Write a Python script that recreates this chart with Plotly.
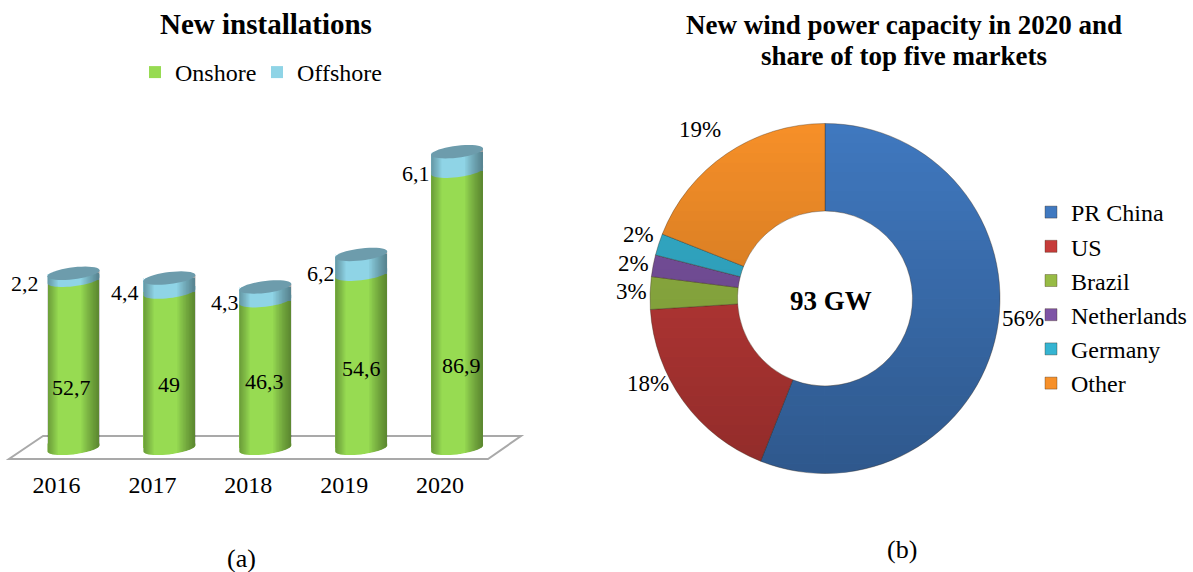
import math
import plotly.graph_objects as go

# ---------- data ----------
years = ["2016", "2017", "2018", "2019", "2020"]
onshore = [52.7, 49, 46.3, 54.6, 86.9]
offshore = [2.2, 4.4, 4.3, 6.2, 6.1]
markets = ["PR China", "US", "Brazil", "Netherlands", "Germany", "Other"]
shares = [56, 18, 3, 2, 2, 19]

# ---------- styling / layout ----------
W, H = 1193, 572
FONT = "Liberation Serif"
GREEN, BLUE, CAP = "#97DB52", "#8FD4E6", "#6D9CAC"
PIE_COLORS = ["#4079C0", "#C63C3A", "#97BB45", "#7E55A6", "#35B4D2", "#F79029"]
px = lambda x: x / W
py = lambda y: 1 - y / H

X0, DX = 73.5, 95.9          # pixel position of first bar, spacing
AX_L, AX_R = 20, 530
Y_BASE, Y_TOP = 448.4, 129.4
PPU = (Y_BASE - Y_TOP) / 100
Y_MIN = -6
BAR_W = 0.542
BX = 6 / PPU                 # ellipse half height in data units
TILT = 3 / PPU               # ellipse tilt in data units

fig = go.Figure()
fig.add_bar(x=list(range(5)), y=onshore, name="Onshore", marker_color=GREEN,
            marker_line_width=0, width=BAR_W, legend="legend", showlegend=True)
fig.add_bar(x=list(range(5)), y=offshore, name="Offshore", marker_color=BLUE,
            marker_line_width=0, width=BAR_W, legend="legend3", showlegend=True)
fig.add_pie(labels=markets, values=shares, hole=0.5, sort=False, direction="clockwise",
            rotation=0, textinfo="none", marker=dict(colors=PIE_COLORS,
            line=dict(color="rgba(60,40,20,0.35)", width=1)),
            domain=dict(x=[px(650), px(1000)], y=[py(474), py(123)]), legend="legend2",
            showlegend=True)

shapes = []


def ell_pts(cx, cy, t0, t1, n=24):
    pts = []
    for k in range(n + 1):
        t = t0 + (t1 - t0) * k / n
        u = math.cos(t)
        pts.append((cx + BAR_W / 2 * u, cy + TILT * u + BX * math.sin(t)))
    return pts


def path(pts):
    return "M" + " L".join(f"{a:.4f},{b:.3f}" for a, b in pts) + " Z"


def add_xy(pts, color, opacity=1.0):
    shapes.append(dict(type="path", xref="x", yref="y", path=path(pts), fillcolor=color,
                       opacity=opacity, line_width=0, layer="above"))


# floor
floor = [(43, 436), (9, 459), (488, 459), (521, 436)]
shapes.append(dict(type="path", xref="paper", yref="paper", layer="below",
                   path="M" + " L".join(f"{px(a):.5f},{py(b):.5f}" for a, b in floor) + " Z",
                   fillcolor="rgba(0,0,0,0)", line=dict(color="#A9A9A9", width=2)))


def lower_y(cy, u):
    return cy + TILT * u - BX * math.sqrt(max(0, 1 - u * u))


def side_poly(i, total, u0, u1, n=14):
    us = [u0 + (u1 - u0) * k / n for k in range(n + 1)]
    low = [(i + u * BAR_W / 2, lower_y(0, u)) for u in us]
    top = [(i + u * BAR_W / 2, total + TILT * u) for u in reversed(us)]
    return low + top


for i, (a, b) in enumerate(zip(onshore, offshore)):
    total = a + b
    # rounded foot and white corner masks
    add_xy(ell_pts(i, 0, math.pi, 2 * math.pi) +
           [(i + BAR_W / 2, 1.5), (i - BAR_W / 2, 1.5)], GREEN)
    add_xy([(i + BAR_W / 2, -TILT - BX), (i + BAR_W / 2, TILT)] +
           list(reversed(ell_pts(i, 0, 1.5 * math.pi, 2 * math.pi))), "white")
    add_xy([(i - BAR_W / 2, total + 2 * TILT)] + ell_pts(i, total, math.pi, math.pi / 2), "white")
    # boundary between segments
    add_xy(ell_pts(i, a, math.pi, 2 * math.pi) +
           [(i + BAR_W / 2, a + 2 * TILT), (i - BAR_W / 2, a + 2 * TILT)], BLUE)
    # cylinder side shading: nested translucent layers, darker towards the edges
    for k in range(12):
        add_xy(side_poly(i, total, 0.30 + 0.68 * k / 12, 1), "#000000", 0.036)
    for k in range(8):
        add_xy(side_poly(i, total, -1, -0.60 - 0.38 * k / 8), "#000000", 0.035)
    # top cap
    add_xy(ell_pts(i, total, 0, 2 * math.pi, 40), CAP)

# doughnut vertical shading
CX, CY, R, r = 825, 298.5, 175, 87.5
bands = 36
for k in range(bands):
    y0 = -R + 2 * R * k / bands
    y1 = -R + 2 * R * (k + 1) / bands
    op = 0.27 * (k + 0.5) / bands
    steps = [y0 + (y1 - y0) * j / 4 for j in range(5)]
    xo = [math.sqrt(max(0, R * R - v * v)) for v in steps]
    xi = [math.sqrt(max(0, r * r - v * v)) for v in steps]
    for sgn in (1, -1):
        pts = [(CX + sgn * a, CY + v) for a, v in zip(xi, steps)] + \
              [(CX + sgn * a, CY + v) for a, v in reversed(list(zip(xo, steps)))]
        shapes.append(dict(type="path", xref="paper", yref="paper", layer="above",
                           path="M" + " L".join(f"{px(a):.5f},{py(b):.5f}" for a, b in pts) + " Z",
                           fillcolor="#000000", opacity=op, line_width=0))

fmt = lambda v: str(v).replace(".", ",")
ann = []


def text(x, y, s, size=22, bold=False):
    ann.append(dict(xref="paper", yref="paper", x=px(x), y=py(y), text=f"<b>{s}</b>" if bold else s,
                    showarrow=False, xanchor="center", yanchor="middle",
                    font=dict(family=FONT, size=size, color="#000000")))


on_pos = [(71, 387), (169, 384), (264, 381), (361, 368), (461, 365)]
off_pos = [(25, 283), (125, 292), (225, 302), (321, 273), (416, 173)]
for v, p in zip(onshore, on_pos):
    text(p[0], p[1], fmt(v))
for v, p in zip(offshore, off_pos):
    text(p[0], p[1], fmt(v))

pct_pos = [(1023, 318), (648, 383), (631, 291), (633, 263), (638, 234), (700, 129)]
for v, p in zip(shares, pct_pos):
    text(p[0], p[1], f"{v}%", 23)

text(266, 24, "New installations", 29, True)
text(904, 25, "New wind power capacity in 2020 and", 27, True)
text(904, 56, "share of top five markets", 27, True)
text(831, 301, "93 GW", 27, True)
text(241, 558, "(a)", 26)
text(902, 549, "(b)", 26)

fig.update_layout(
    width=W, height=H, margin=dict(l=0, r=0, t=0, b=0), barmode="stack", showlegend=True,
    paper_bgcolor="white", plot_bgcolor="rgba(0,0,0,0)", shapes=shapes, annotations=ann,
    font=dict(family=FONT, size=24, color="#000000"),
    xaxis=dict(domain=[px(AX_L), px(AX_R)], range=[(AX_L - X0) / DX, (AX_R - X0) / DX],
               tickmode="array", tickvals=list(range(5)), ticktext=years, ticks="",
               showgrid=False, zeroline=False, showline=False,
               ticklabelshift=-17, ticklabelstandoff=0, tickfont=dict(size=24)),
    yaxis=dict(domain=[py(Y_BASE - Y_MIN * PPU), py(Y_TOP)], range=[Y_MIN, 100], visible=False),
    legend=dict(x=px(135), y=py(50), xanchor="left", yanchor="top",
                font=dict(size=24), bgcolor="rgba(0,0,0,0)"),
    legend3=dict(x=px(257), y=py(50), xanchor="left", yanchor="top",
                 font=dict(size=24), bgcolor="rgba(0,0,0,0)"),
    legend2=dict(x=px(1031), y=py(190), xanchor="left", yanchor="top", traceorder="normal",
                 font=dict(size=24), bgcolor="rgba(0,0,0,0)", tracegroupgap=0),
)
fig.write_html("out.html", post_script="document.body.style.margin='0';",
               config=dict(displayModeBar=False))
